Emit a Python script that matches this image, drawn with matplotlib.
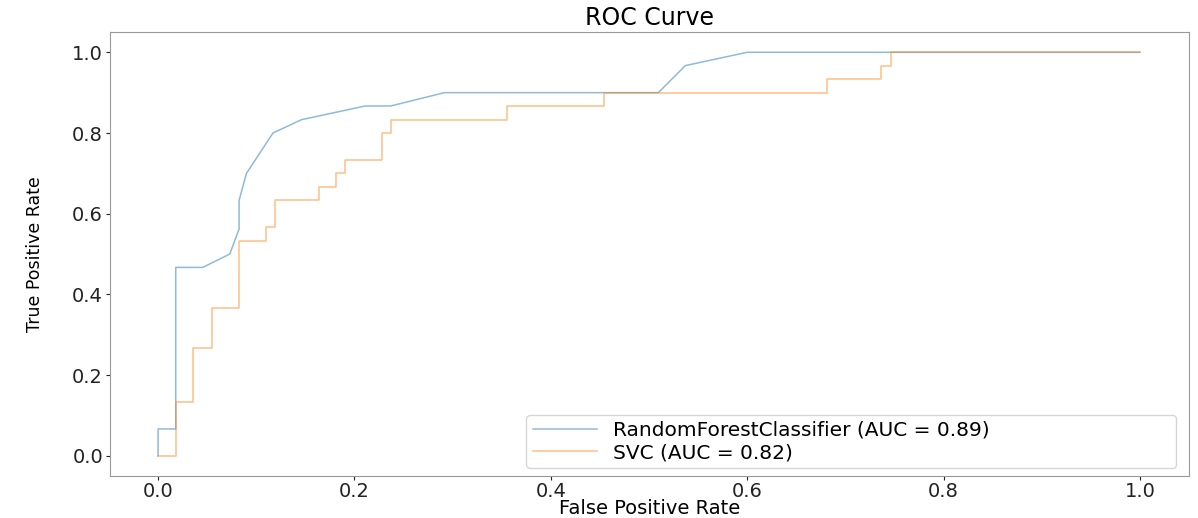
import matplotlib
matplotlib.use("Agg")
import matplotlib.pyplot as plt

# ROC points
rf_fpr = [0.0, 0.0, 0.018, 0.018, 0.0455, 0.073, 0.0825, 0.0825, 0.090, 0.117, 0.146, 0.211, 0.237, 0.2916, 0.5095, 0.537, 0.600, 1.0]
rf_tpr = [0.0, 0.0667, 0.0667, 0.467, 0.467, 0.500, 0.562, 0.633, 0.700, 0.800, 0.833, 0.867, 0.867, 0.900, 0.900, 0.967, 1.0, 1.0]

svc_fpr = [0.0, 0.018, 0.018, 0.036, 0.036, 0.0545, 0.0545, 0.0825, 0.0825, 0.1096, 0.1096, 0.119, 0.119,
           0.164, 0.164, 0.181, 0.181, 0.190, 0.190, 0.228, 0.228, 0.237, 0.237, 0.355, 0.355,
           0.4545, 0.4545, 0.6816, 0.6816, 0.736, 0.736, 0.746, 0.746, 1.0]
svc_tpr = [0.0, 0.0, 0.133, 0.133, 0.267, 0.267, 0.367, 0.367, 0.533, 0.533, 0.567, 0.567, 0.633,
           0.633, 0.667, 0.667, 0.700, 0.700, 0.733, 0.733, 0.800, 0.800, 0.833, 0.833, 0.867,
           0.867, 0.900, 0.900, 0.933, 0.933, 0.967, 0.967, 1.0, 1.0]

labels = ["RandomForestClassifier (AUC = 0.89)", "SVC (AUC = 0.82)"]

fig = plt.figure(figsize=(11.98, 5.18), dpi=100)
ax = fig.add_axes([0.0918, 0.081, 0.9007, 0.857])

ax.plot(rf_fpr, rf_tpr, color="#1f77b4", alpha=0.5, lw=1.1, label=labels[0])
ax.plot(svc_fpr, svc_tpr, color="#ff7f0e", alpha=0.5, lw=1.1, label=labels[1])

ax.set_xlim(-0.049, 1.05)
ax.set_ylim(-0.05, 1.05)
ax.set_xticks([0.0, 0.2, 0.4, 0.6, 0.8, 1.0])
ax.set_yticks([0.0, 0.2, 0.4, 0.6, 0.8, 1.0])
ax.tick_params(labelsize=14, colors="#222222", length=3, width=0.8, pad=2)
ax.tick_params(axis="x", pad=1)
for s in ax.spines.values():
    s.set_color("#999999")

ax.set_title("ROC Curve", fontsize=17, pad=5)
ax.set_xlabel("False Positive Rate", fontsize=14, labelpad=-1)
ax.set_ylabel("True Positive Rate", fontsize=12.5, labelpad=20)

# legend box spans the same place as in the picture, text left aligned
ax.legend(loc="lower left", bbox_to_anchor=(0.386, 0.018, 0.602, 0.2), mode="expand",
          borderaxespad=0, fontsize=14.5, handlelength=3.2, framealpha=0.8,
          borderpad=0.3, labelspacing=0.15)

fig.savefig("out.png", dpi=100)
